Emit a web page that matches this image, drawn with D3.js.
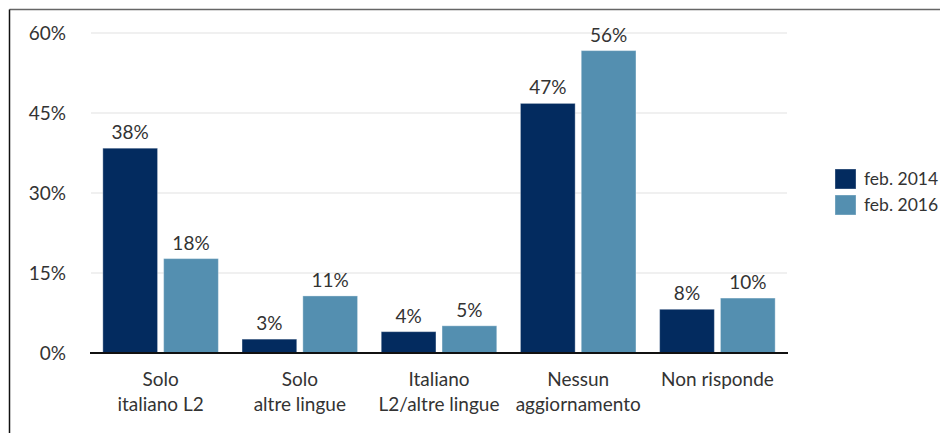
<!DOCTYPE html>
<html>
<head>
<meta charset="utf-8">
<script src="https://cdn.jsdelivr.net/npm/d3@7"></script>
<style>
  body { margin: 0; background: #fff; }
  text { font-family: Lato, "Noto Sans", sans-serif; fill: #333; }
</style>
</head>
<body>
<div id="chart"></div>
<script>
// Data
const categories = [
  ["Solo", "italiano L2"],
  ["Solo", "altre lingue"],
  ["Italiano", "L2/altre lingue"],
  ["Nessun", "aggiornamento"],
  ["Non risponde"]
];
const seriesNames = ["feb. 2014", "feb. 2016"];
const values2014 = [38.4, 2.6, 4.0, 46.8, 8.2];
const values2016 = [17.7, 10.7, 5.1, 56.7, 10.3];
const labels2014 = ["38%", "3%", "4%", "47%", "8%"];
const labels2016 = ["18%", "11%", "5%", "56%", "10%"];
const yTicks = [0, 15, 30, 45, 60];
const colors = ["#032b5f", "#548fb0"];

const width = 940, height = 433;
const margin = { left: 91, right: 787, top: 33, bottom: 353 };

const svg = d3.select("#chart").append("svg")
    .attr("width", width)
    .attr("height", height);

// Frame
svg.append("line")
    .attr("x1", 9.5).attr("x2", width)
    .attr("y1", 9.5).attr("y2", 9.5)
    .attr("stroke", "#666").attr("stroke-width", 1.5);
svg.append("line")
    .attr("x1", 9.5).attr("x2", 9.5)
    .attr("y1", 9.5).attr("y2", height)
    .attr("stroke", "#111").attr("stroke-width", 1.5);

// Scales
const keys = categories.map(d => d.join(" "));
const x0 = d3.scaleBand()
    .domain(keys)
    .range([margin.left, margin.right])
    .paddingInner(0.17)
    .paddingOuter(0.085);
const x1 = d3.scaleBand()
    .domain(seriesNames)
    .range([0, x0.bandwidth()])
    .paddingInner(0.1);
const y = d3.scaleLinear()
    .domain([0, 60])
    .range([margin.bottom, margin.top]);

// Gridlines
svg.append("g")
  .selectAll("line")
  .data(yTicks.filter(d => d > 0))
  .join("line")
    .attr("x1", margin.left).attr("x2", margin.right)
    .attr("y1", d => y(d)).attr("y2", d => y(d))
    .attr("stroke", "#ebebeb").attr("stroke-width", 1.5);

// Y labels
svg.append("g")
  .selectAll("text")
  .data(yTicks)
  .join("text")
    .attr("x", 66)
    .attr("y", d => y(d))
    .attr("dy", "0.35em")
    .attr("text-anchor", "end")
    .style("font-size", "19px")
    .text(d => d + "%");

// Bars
const rows = keys.map((k, i) => ({
  key: k,
  bars: [
    { s: seriesNames[0], v: values2014[i], label: labels2014[i] },
    { s: seriesNames[1], v: values2016[i], label: labels2016[i] }
  ]
}));
const color = d3.scaleOrdinal().domain(seriesNames).range(colors);

const groups = svg.append("g")
  .selectAll("g")
  .data(rows)
  .join("g")
    .attr("transform", d => `translate(${x0(d.key)},0)`);

groups.selectAll("rect")
  .data(d => d.bars)
  .join("rect")
    .attr("x", d => x1(d.s))
    .attr("y", d => y(d.v))
    .attr("width", x1.bandwidth())
    .attr("height", d => y(0) - y(d.v))
    .attr("fill", d => color(d.s))
    .attr("stroke", "#fff")
    .attr("stroke-opacity", 0.35)
    .attr("stroke-width", 1);

groups.selectAll("text")
  .data(d => d.bars)
  .join("text")
    .attr("x", d => x1(d.s) + x1.bandwidth() / 2)
    .attr("y", d => y(d.v) - 9)
    .attr("text-anchor", "middle")
    .style("font-size", "19px")
    .text(d => d.label);

// X axis line
svg.append("line")
    .attr("x1", margin.left - 1).attr("x2", margin.right + 1)
    .attr("y1", margin.bottom).attr("y2", margin.bottom)
    .attr("stroke", "#111").attr("stroke-width", 2);

// Category labels
const catText = svg.append("g")
  .selectAll("text")
  .data(categories)
  .join("text")
    .attr("text-anchor", "middle")
    .attr("transform", (d, i) => `translate(${x0(keys[i]) + x0.bandwidth() / 2},386)`)
    .style("font-size", "19px");
catText.selectAll("tspan")
  .data(d => d)
  .join("tspan")
    .attr("x", 0)
    .attr("y", (d, i) => i * 25)
    .text(d => d);

// Legend
const legend = svg.append("g")
  .selectAll("g")
  .data(seriesNames)
  .join("g")
    .attr("transform", (d, i) => `translate(835,${169 + i * 26})`);
legend.append("rect")
    .attr("width", 21).attr("height", 20)
    .attr("fill", d => color(d))
    .attr("stroke", "#fff").attr("stroke-opacity", 0.35);
legend.append("text")
    .attr("x", 29).attr("y", 10)
    .attr("dy", "0.35em")
    .style("font-size", "17.5px")
    .text(d => d);
</script>
</body>
</html>
